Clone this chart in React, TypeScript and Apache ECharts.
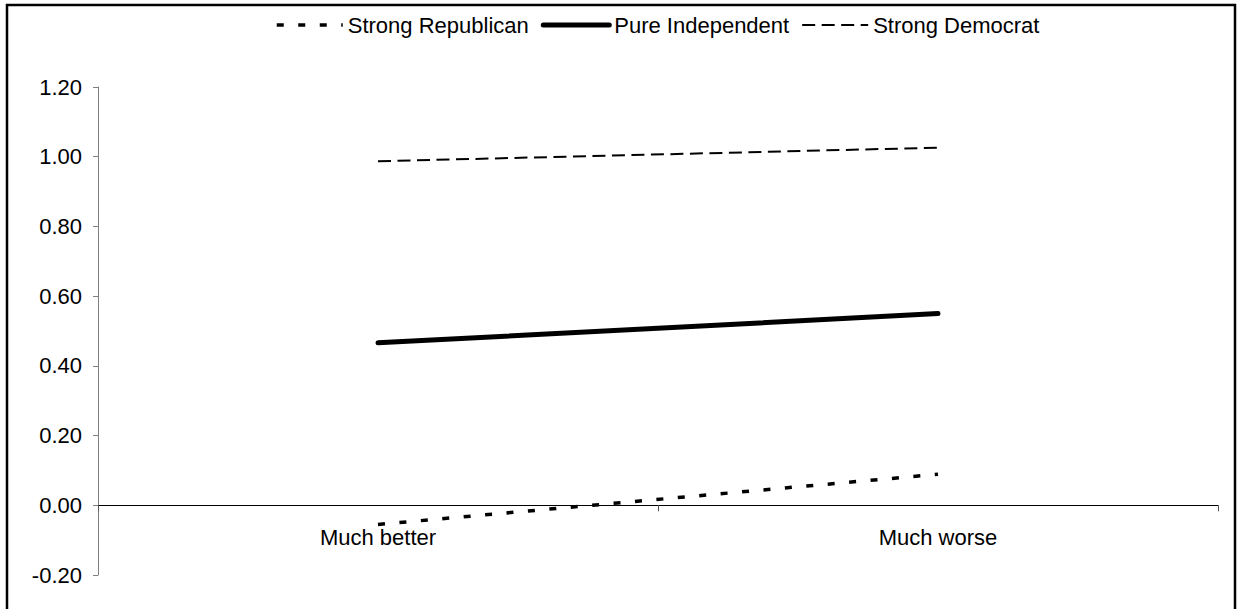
import React, { useEffect, useRef } from "react";
import * as echarts from "echarts";

const categories = ["Much better", "Much worse"];
const strongRepublican = [-0.055, 0.089];
const pureIndependent = [0.466, 0.55];
const strongDemocrat = [0.987, 1.026];
const seriesNames = ["Strong Republican", "Pure Independent", "Strong Democrat"];

const FONT = "Liberation Sans, Arial, sans-serif";

const repLine = { color: "#000", width: 3.5, type: [7, 14.5], cap: "butt" };
const indLine = { color: "#000", width: 5, type: "solid", cap: "round" };
const demLine = { color: "#000", width: 2, type: [13, 6.5], cap: "butt" };

export default function App() {
  const ref = useRef<HTMLDivElement>(null);
  useEffect(() => {
    if (!ref.current) return;
    const chart = echarts.init(ref.current, undefined, { renderer: "svg" });
    chart.setOption({
      animation: false,
      backgroundColor: "#ffffff",
      textStyle: { fontFamily: FONT },
      graphic: [
        {
          type: "rect",
          shape: { x: 7, y: 5, width: 1228, height: 700 },
          style: { fill: "none", stroke: "#000", lineWidth: 2.5 },
          silent: true,
          z: 0,
        },
      ],
      legend: {
        left: 270,
        top: 9,
        itemWidth: 66,
        itemHeight: 14,
        itemGap: 12,
        textStyle: { fontFamily: FONT, fontSize: 22, color: "#000" },
        itemStyle: { opacity: 0 },
        data: [
          { name: seriesNames[0], lineStyle: repLine, itemStyle: { opacity: 0 } },
          { name: seriesNames[1], lineStyle: indLine, itemStyle: { opacity: 0 } },
          { name: seriesNames[2], lineStyle: demLine, itemStyle: { opacity: 0 } },
        ],
      },
      grid: { left: 98, right: 21, top: 87, bottom: 34 },
      xAxis: {
        type: "category",
        data: categories,
        boundaryGap: true,
        axisLine: { onZero: true, lineStyle: { color: "#000", width: 1 } },
        axisTick: { show: true, length: 6, lineStyle: { color: "#555" } },
        axisLabel: { color: "#000", fontSize: 22, fontFamily: FONT, margin: -49 },
        splitLine: { show: false },
      },
      yAxis: {
        type: "value",
        min: -0.2,
        max: 1.2,
        interval: 0.2,
        axisLine: { show: true, onZero: false, lineStyle: { color: "#808080", width: 1 } },
        axisTick: { show: true, length: 5, lineStyle: { color: "#808080" } },
        axisLabel: {
          color: "#000",
          fontSize: 22,
          fontFamily: FONT,
          margin: 16,
          formatter: (v: number) => v.toFixed(2),
        },
        splitLine: { show: false },
      },
      series: [
        {
          name: seriesNames[0],
          type: "line",
          data: strongRepublican,
          symbol: "none",
          lineStyle: repLine,
          itemStyle: { color: "#000" },
        },
        {
          name: seriesNames[1],
          type: "line",
          data: pureIndependent,
          symbol: "none",
          lineStyle: indLine,
          itemStyle: { color: "#000" },
        },
        {
          name: seriesNames[2],
          type: "line",
          data: strongDemocrat,
          symbol: "none",
          lineStyle: demLine,
          itemStyle: { color: "#000" },
        },
      ],
    });
    return () => chart.dispose();
  }, []);
  return (
    <div
      ref={ref}
      style={{ position: "fixed", left: 0, top: 0, width: 1239, height: 609, background: "#fff" }}
    />
  );
}
